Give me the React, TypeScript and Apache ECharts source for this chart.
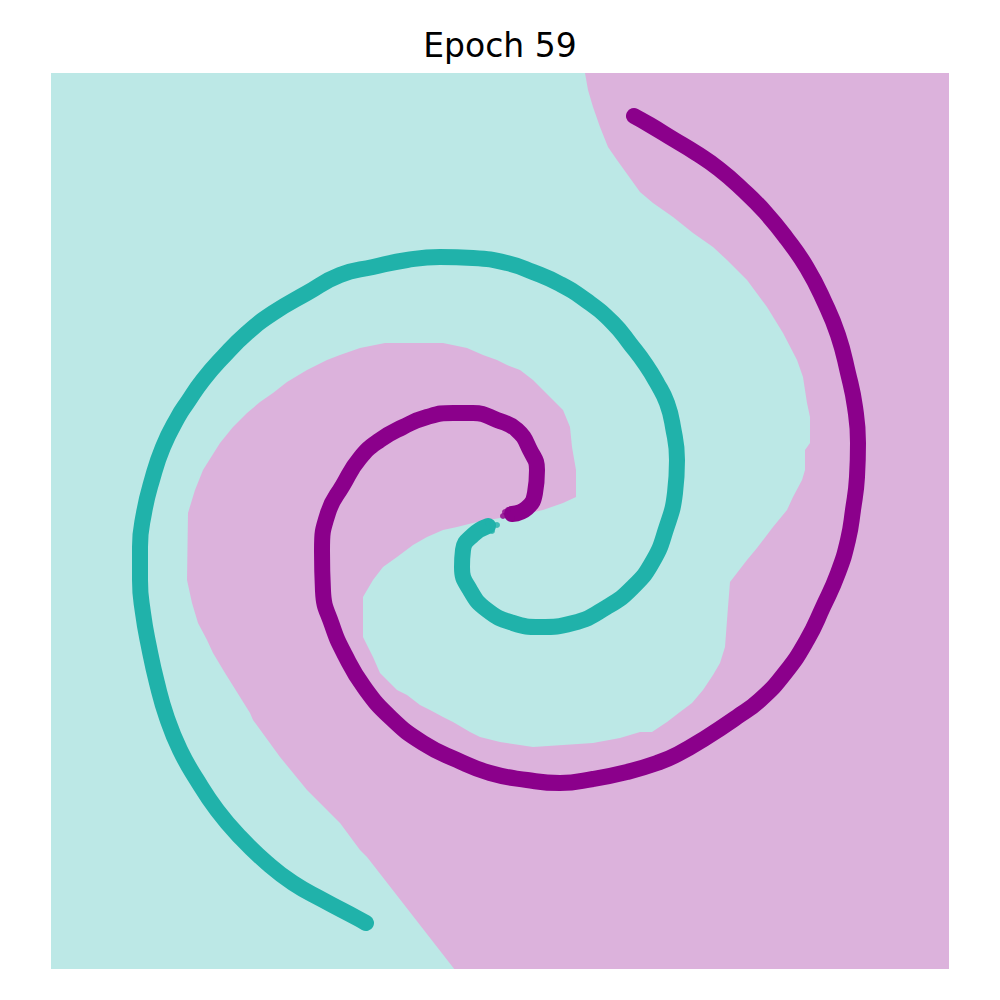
import React, { useEffect, useRef } from "react";
import * as echarts from "echarts";

const TITLE = "Epoch 59";

// class 1 (darkmagenta) arm, inner tip -> outer tip
const purpleArm: number[][] = [
  [12, 7], [27, 13], [35, 28], [37, 51], [30, 71], [17, 91], [-3, 101], [-27, 108],
  [-47, 108], [-73, 104], [-97, 94], [-120, 81], [-140, 63], [-157, 36], [-172, 8],
  [-178, -30], [-177, -70], [-168, -104], [-155, -134], [-136, -166], [-109, -197],
  [-77, -222], [-43, -239], [-10, -252], [27, -259], [60, -262], [93, -258], [127, -251],
  [157, -242], [178, -233], [207, -216], [237, -196], [260, -179], [285, -152],
  [307, -119], [323, -86], [338, -52], [348, -19], [353, 11], [357, 44], [358, 78],
  [355, 114], [348, 148], [338, 186], [324, 220], [307, 253], [287, 282], [265, 309],
  [242, 332], [219, 352], [196, 368], [173, 382], [150, 396], [134, 405],
];

// class 0 (lightseagreen) arm, inner tip -> outer tip
const tealArm: number[][] = [
  [-12, -5], [-27, -14], [-37, -29], [-38, -46], [-30, -69], [-13, -89], [13, -102],
  [40, -106], [73, -102], [107, -86], [133, -66], [153, -40], [166, -8], [175, 28],
  [177, 61], [173, 94], [167, 118], [157, 138], [146, 156], [131, 176], [113, 198],
  [87, 220], [60, 237], [33, 249], [7, 258], [-27, 263], [-60, 264], [-93, 261],
  [-127, 254], [-160, 246], [-193, 228], [-227, 208], [-253, 188], [-277, 164],
  [-297, 141], [-313, 118], [-322, 104], [-337, 74], [-348, 41], [-356, 8],
  [-360, -26], [-360, -59], [-357, -92], [-351, -126], [-343, -162], [-333, -197],
  [-320, -229], [-303, -259], [-283, -289], [-260, -316], [-233, -342], [-207, -362],
  [-177, -379], [-143, -397], [-134, -402],
];

// scattered points at the inner tips
const purpleTipDots: number[][] = [[8, 11], [3, 5], [12, 3], [5, 9]];
const tealTipDots: number[][] = [[-3, -4], [-8, -10], [-12, -2], [-7, -3]];

// outline of the region predicted as class 1
const class1Region: number[][] = [
  [85, 448], [88, 431], [93, 414], [100, 394], [108, 374], [117, 361], [140, 329],
  [153, 318], [173, 304], [193, 288], [213, 274], [227, 261], [247, 241], [267, 214],
  [283, 188], [297, 161], [303, 144], [307, 118], [310, 104], [310, 78], [305, 71],
  [305, 51], [302, 41], [293, 24], [287, 11], [273, -6], [257, -27], [247, -39],
  [230, -61], [228, -86], [225, -126], [220, -142], [213, -154], [203, -169],
  [192, -182], [180, -191], [167, -201], [152, -211], [140, -211], [120, -217],
  [93, -222], [33, -226], [0, -221], [-20, -216], [-30, -211], [-47, -201], [-57, -196],
  [-70, -189], [-80, -184], [-93, -174], [-103, -169], [-120, -152], [-127, -136],
  [-137, -116], [-137, -76], [-127, -59], [-117, -46], [-103, -36], [-87, -24],
  [-73, -16], [-57, -9], [-43, -6], [-23, -1], [0, 3], [20, 6], [43, 11], [63, 18],
  [76, 24], [76, 51], [72, 74], [70, 94], [63, 111], [53, 121], [43, 131], [33, 141],
  [20, 151], [7, 156], [-3, 161], [-17, 166], [-33, 173], [-57, 178], [-115, 178],
  [-140, 173], [-160, 166], [-173, 161], [-193, 151], [-213, 139], [-227, 128],
  [-240, 119], [-253, 108], [-267, 94], [-280, 78], [-297, 51], [-305, 31], [-312, 8],
  [-313, -59], [-308, -82], [-302, -102], [-293, -119], [-287, -132], [-275, -152],
  [-250, -192], [-247, -199], [-220, -236], [-193, -269], [-173, -289], [-160, -302],
  [-140, -329], [-133, -336], [-45, -449], [449, -449], [449, 449], [85, 449],
];

const X_RANGE = [-449, 449];
const Y_RANGE = [-448, 448];

const COLOR0 = "#20b2aa";
const COLOR1 = "#8b008b";
const BG0 = "#bce8e6";
const BG1 = "#dcb2dc";

export default function App() {
  const ref = useRef<HTMLDivElement>(null);
  useEffect(() => {
    if (!ref.current) return;
    const chart = echarts.init(ref.current, undefined, { renderer: "svg" });
    chart.setOption({
      animation: false,
      backgroundColor: "#ffffff",
      title: {
        text: TITLE,
        left: "center",
        top: 24,
        textStyle: {
          fontFamily: "DejaVu Sans",
          fontSize: 33,
          fontWeight: "normal",
          color: "#000000",
        },
      },
      grid: {
        left: 51,
        top: 73,
        width: 898,
        height: 896,
        show: true,
        backgroundColor: BG0,
        borderWidth: 0,
      },
      xAxis: { type: "value", min: X_RANGE[0], max: X_RANGE[1], show: false },
      yAxis: { type: "value", min: Y_RANGE[0], max: Y_RANGE[1], show: false },
      series: [
        {
          type: "custom",
          clip: true,
          z: 1,
          data: [[0, 0]],
          renderItem: (_params: any, api: any) => ({
            type: "polygon",
            shape: { points: class1Region.map((p) => api.coord(p)) },
            style: { fill: BG1, stroke: "none" },
          }),
        },
        {
          type: "line",
          data: tealArm,
          smooth: 0.5,
          showSymbol: false,
          z: 3,
          lineStyle: { color: COLOR0, width: 16, cap: "round", join: "round" },
        },
        {
          type: "line",
          data: purpleArm,
          smooth: 0.5,
          showSymbol: false,
          z: 3,
          lineStyle: { color: COLOR1, width: 16, cap: "round", join: "round" },
        },
        {
          type: "scatter",
          data: tealTipDots,
          symbolSize: 6,
          z: 4,
          itemStyle: { color: COLOR0 },
        },
        {
          type: "scatter",
          data: purpleTipDots,
          symbolSize: 6,
          z: 4,
          itemStyle: { color: COLOR1 },
        },
      ],
    });
    return () => chart.dispose();
  }, []);
  return <div ref={ref} style={{ width: 1000, height: 1000, position: "absolute", left: 0, top: 0 }} />;
}
